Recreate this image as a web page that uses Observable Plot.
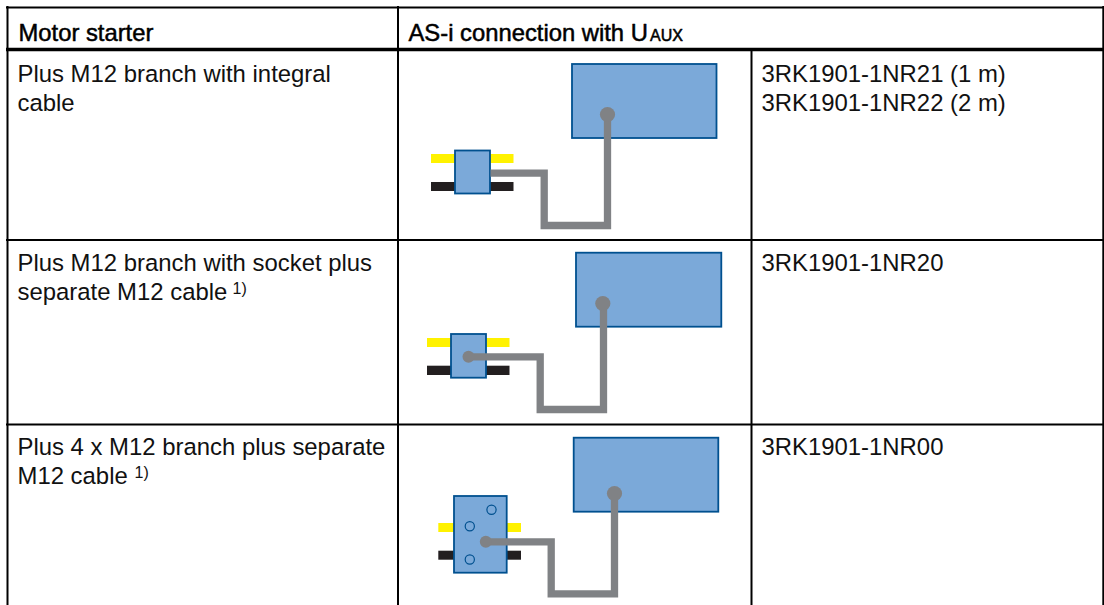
<!DOCTYPE html>
<html><head><meta charset="utf-8">
<script src="https://cdn.jsdelivr.net/npm/d3@7"></script>
<script src="https://cdn.jsdelivr.net/npm/@observablehq/plot@0.6"></script>
<style>html,body{margin:0;padding:0;background:#fff}svg{display:block}</style>
</head><body><div id="chart"></div>
<script>
const BLUE="#7ba9d9", EDGE="#00508f", GREY="#808285", YEL="#fff200", BLK="#231f20";
const gridH=[[6,1104,7,2],[6,1104,49,3.6],[6,1104,239.5,2],[6,1104,424,2.2]];
const gridV=[[7,6,605],[397.5,6,605],[751,49,605],[1102.8,6,605]];
const largeBoxes=[[572,716.5,64,138],[576,721.3,252.7,326.7],[573.7,718.3,437.7,511.7]];
const smallBoxes=[[455,490,150.5,193.5],[451,486,334,377.7],[454,506.7,496,572.7]];
const yellowBars=[[431,513.5,154,163],[427,509.5,338,347],[438.3,521,523,532]];
const blackBars=[[431,513.5,182,191],[427,509.5,365.7,375],[438.3,521,550.7,559.7]];
const cables=[
 [[490,172.7],[543.7,172.7],[543.7,225],[607,225],[607,114]],
 [[468,356.3],[539.7,356.3],[539.7,409],[603,409],[603,303]],
 [[485.3,541.3],[550.7,541.3],[550.7,593.3],[614,593.3],[614,493]]];
const bigDots=[[607,114],[602.3,303],[614,493]];
const smallDots=[[468,356.3],[485.3,541.3]];
const ports=[[491,509.3],[469.3,525.7],[469.3,559]];
const headers=[["Motor starter",18,40],["AS-i connection with U",408,40]];
const subscript=[["AUX",649.5,40]];
const bodyText=[
 ["Plus M12 branch with integral",17,81],["cable",17,110],
 ["3RK1901-1NR21 (1 m)",761,81],["3RK1901-1NR22 (2 m)",761,110],
 ["Plus M12 branch with socket plus",17,270],["separate M12 cable",17,299],
 ["3RK1901-1NR20",761,270],
 ["Plus 4 x M12 branch plus separate",17,454],["M12 cable",17,483],
 ["3RK1901-1NR00",761,454]];
const notes=[["1)",232,293],["1)",134,477]];
const font="Liberation Sans, Arial, sans-serif";
const rect=(arr,fill,extra={})=>Plot.rect(arr,{x1:d=>d[0],x2:d=>d[1],y1:d=>d[2],y2:d=>d[3],fill,...extra});
const chart=Plot.plot({width:1104,height:605,margin:0,
 x:{domain:[0,1104],range:[0,1104],axis:null},
 y:{domain:[0,605],range:[0,605],axis:null},
 style:{background:"#fff",fontFamily:font},
 marks:[
  rect(yellowBars,YEL),rect(blackBars,BLK),
  rect(largeBoxes,BLUE,{stroke:EDGE,strokeWidth:1.8}),
  rect(smallBoxes,BLUE,{stroke:EDGE,strokeWidth:1.8}),
  Plot.dot(ports,{x:d=>d[0],y:d=>d[1],r:4.6,stroke:EDGE,strokeWidth:1.2,fill:"none"}),
  ...cables.map(c=>Plot.line(c,{x:d=>d[0],y:d=>d[1],stroke:GREY,strokeWidth:7.3,strokeLinejoin:"miter",strokeMiterlimit:4,strokeLinecap:"butt"})),
  Plot.dot(bigDots,{x:d=>d[0],y:d=>d[1],r:7.6,fill:GREY}),
  Plot.dot(smallDots,{x:d=>d[0],y:d=>d[1],r:6,fill:GREY}),
  ...gridH.map(g=>Plot.ruleY([g],{x1:d=>d[0],x2:d=>d[1],y:d=>d[2],stroke:"#000",strokeWidth:g[3]})),
  Plot.ruleX(gridV,{x:d=>d[0],y1:d=>d[1],y2:d=>d[2],stroke:"#000",strokeWidth:2}),
  Plot.text(headers,{x:d=>d[1],y:d=>d[2],text:d=>d[0],textAnchor:"start",fontSize:23.8,fill:"#000",stroke:"#000",strokeWidth:0.5,lineAnchor:"bottom"}),
  Plot.text(subscript,{x:d=>d[1],y:d=>d[2],text:d=>d[0],textAnchor:"start",fontSize:16,fill:"#000",stroke:"#000",strokeWidth:0.5,lineAnchor:"bottom"}),
  Plot.text(bodyText,{x:d=>d[1],y:d=>d[2],text:d=>d[0],textAnchor:"start",fontSize:23.9,fill:"#111",lineAnchor:"bottom"}),
  Plot.text(notes,{x:d=>d[1],y:d=>d[2],text:d=>d[0],textAnchor:"start",fontSize:16,fill:"#111",lineAnchor:"bottom"})
 ]});
document.getElementById("chart").append(chart);
</script></body></html>
